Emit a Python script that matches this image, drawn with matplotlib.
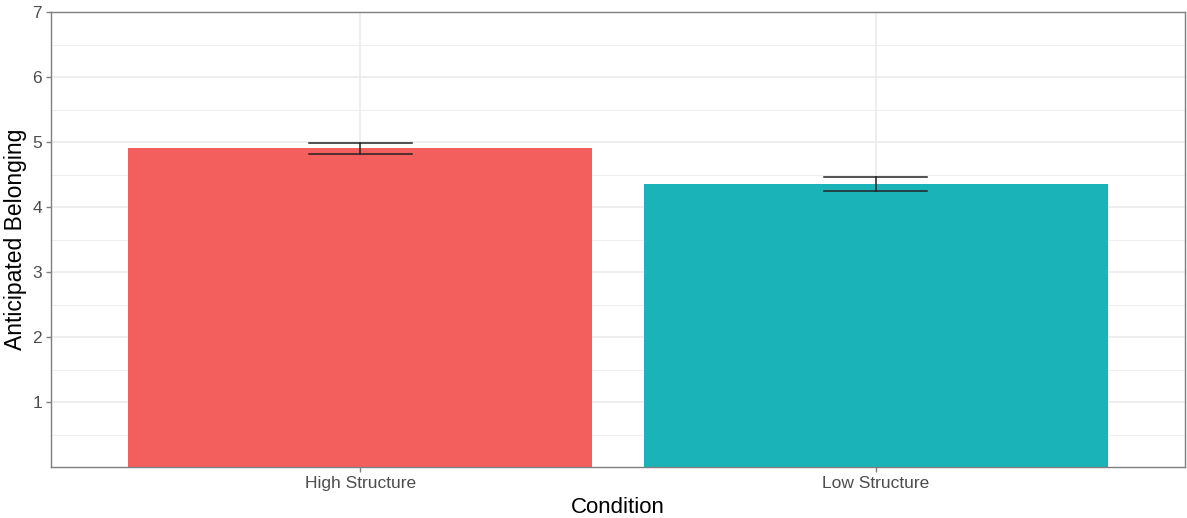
import matplotlib.pyplot as plt
import numpy as np

plt.rcParams['font.family'] = ['Liberation Sans', 'DejaVu Sans']

conditions = ["High Structure", "Low Structure"]
means = [4.91, 4.35]
err_low = [4.82, 4.25]
err_high = [4.99, 4.46]
bar_colors = ["#F25F5C", "#1AB3B8"]

fig = plt.figure(figsize=(11.87, 5.18), dpi=100)
ax = fig.add_axes([51 / 1187, 1 - 467 / 518, 1134 / 1187, 455 / 518])

x = np.arange(len(conditions)) + 1

# grid like theme_bw
for y in np.arange(0.5, 7, 1.0):
    ax.axhline(y, color="#EBEBEB", lw=0.6, zorder=0)
for y in range(1, 8):
    ax.axhline(y, color="#EBEBEB", lw=1.2, zorder=0)
for xi in x:
    ax.axvline(xi, color="#EBEBEB", lw=1.2, zorder=0)

ax.bar(x, means, width=0.9, color=bar_colors, zorder=2)

# error bars
for xi, lo, hi in zip(x, err_low, err_high):
    ax.plot([xi, xi], [lo, hi], color="#222222", lw=1.1, zorder=3)
    ax.plot([xi - 0.1, xi + 0.1], [lo, lo], color="#222222", lw=1.1, zorder=3)
    ax.plot([xi - 0.1, xi + 0.1], [hi, hi], color="#222222", lw=1.1, zorder=3)

ax.set_xlim(0.4, 2.6)
ax.set_ylim(0, 7)
ax.set_xticks(x)
ax.set_xticklabels(conditions)
ax.set_yticks(range(1, 8))

for s in ax.spines.values():
    s.set_color("#7F7F7F")
    s.set_linewidth(1.0)

ax.tick_params(axis="both", colors="#7F7F7F", length=3.5, width=1.0,
               labelsize=12.5, labelcolor="#4D4D4D", pad=3)

ax.set_xlabel("Condition", fontsize=16, labelpad=4)
ax.set_ylabel("Anticipated Belonging", fontsize=16.5, labelpad=4)

fig.savefig("out.png", dpi=100)
